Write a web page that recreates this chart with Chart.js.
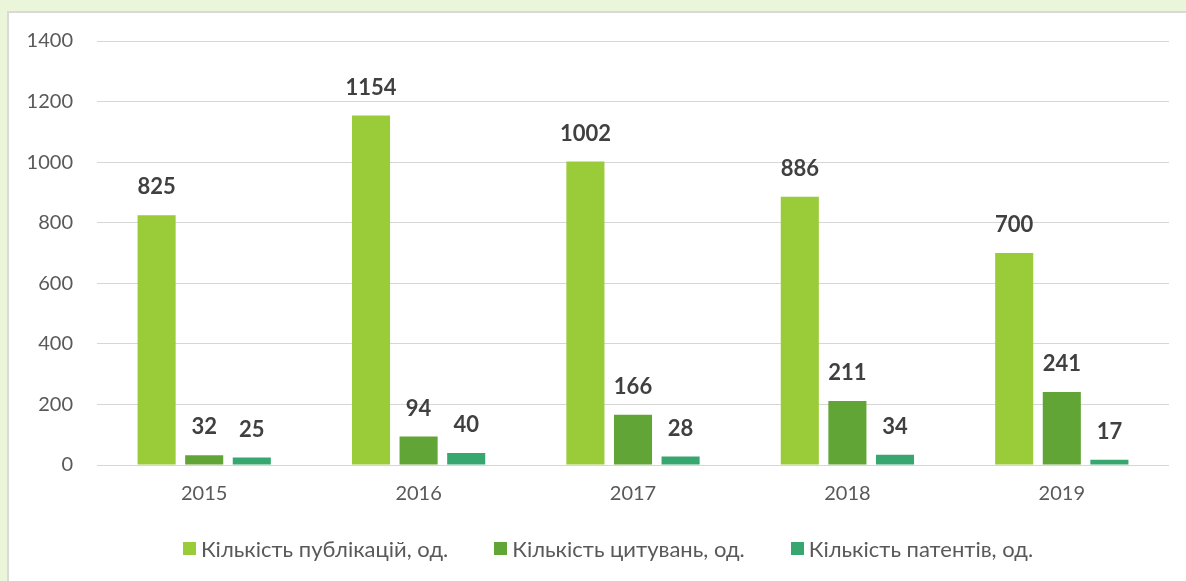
<!DOCTYPE html>
<html lang="uk">
<head>
  <meta charset="UTF-8" />
  <title>Публікації, цитування, патенти</title>
  <script src="https://cdn.jsdelivr.net/npm/chart.js"></script>
  <style>
    html, body {
      margin: 0;
      padding: 0;
      width: 1186px;
      height: 581px;
      overflow: hidden;
      background-color: #ebf5d9;
      font-family: 'Lato', sans-serif;
    }

    .panel {
      position: absolute;
      left: 7px;
      top: 11px;
      width: 1200px;
      height: 600px;
      background: #fff;
      border-left: 2px solid #d9d9d9;
      border-top: 2px solid #d9d9d9;
    }

    .chart-box {
      position: absolute;
      left: 0;
      top: 0;
      width: 1186px;
      height: 581px;
    }

    #legend {
      position: absolute;
      left: 0;
      top: 534px;
      width: 1216px;
      height: 28px;
      display: flex;
      justify-content: center;
      align-items: center;
      gap: 46px;
      font-size: 22px;
      color: #595959;
    }

    #legend .item {
      display: flex;
      align-items: center;
      white-space: nowrap;
    }

    #legend .box {
      width: 13px;
      height: 13px;
      margin-right: 5px;
    }
  </style>
</head>
<body>

  <div class="panel"></div>
  <div class="chart-box">
    <canvas id="barChart"></canvas>
  </div>
  <div id="legend"></div>

  <script>
    const years = ['2015', '2016', '2017', '2018', '2019'];
    const publications = [825, 1154, 1002, 886, 700];
    const citations = [32, 94, 166, 211, 241];
    const patents = [25, 40, 28, 34, 17];
    const seriesNames = ['Кількість публікацій, од.', 'Кількість цитувань, од.', 'Кількість патентів, од.'];
    const seriesColors = ['#9acb38', '#62a537', '#37a76f'];

    // value labels above each bar
    const barLabels = {
      id: 'barLabels',
      afterDatasetsDraw(chart) {
        const ctx = chart.ctx;
        ctx.save();
        ctx.font = 'bold 22px Lato';
        ctx.fillStyle = '#404040';
        ctx.textAlign = 'center';
        ctx.textBaseline = 'middle';
        chart.data.datasets.forEach((ds, i) => {
          chart.getDatasetMeta(i).data.forEach((bar, j) => {
            ctx.fillText(ds.data[j], bar.x, bar.y - 28);
          });
        });
        ctx.restore();
      }
    };

    const tickFont = { family: 'Lato', size: 20 };

    const ctxBar = document.getElementById('barChart').getContext('2d');
    const chart = new Chart(ctxBar, {
      type: 'bar',
      data: {
        labels: years,
        datasets: [
          { label: seriesNames[0], data: publications, backgroundColor: seriesColors[0] },
          { label: seriesNames[1], data: citations, backgroundColor: seriesColors[1] },
          { label: seriesNames[2], data: patents, backgroundColor: seriesColors[2] }
        ]
      },
      options: {
        responsive: true,
        maintainAspectRatio: false,
        animation: false,
        categoryPercentage: 0.666,
        barPercentage: 0.8,
        layout: { padding: { top: 41, right: 17, left: 0, bottom: 58 } },
        plugins: {
          tooltip: { enabled: false },
          legend: { display: false }
        },
        scales: {
          x: {
            grid: { display: false, drawTicks: false },
            border: { display: false },
            ticks: { color: '#595959', font: tickFont, padding: 17 }
          },
          y: {
            min: 0,
            max: 1400,
            grid: { color: '#d6d6d6', lineWidth: 1, drawTicks: false },
            border: { display: false },
            ticks: { stepSize: 200, color: '#595959', font: tickFont, padding: 24, callback: v => String(v) },
            afterFit(scale) { scale.width = 97; }
          }
        }
      },
      plugins: [barLabels]
    });

    // legend from the chart's datasets
    const legendEl = document.getElementById('legend');
    chart.data.datasets.forEach(ds => {
      const item = document.createElement('div');
      item.className = 'item';
      const box = document.createElement('span');
      box.className = 'box';
      box.style.background = ds.backgroundColor;
      item.appendChild(box);
      item.appendChild(document.createTextNode(ds.label));
      legendEl.appendChild(item);
    });
  </script>

</body>
</html>
